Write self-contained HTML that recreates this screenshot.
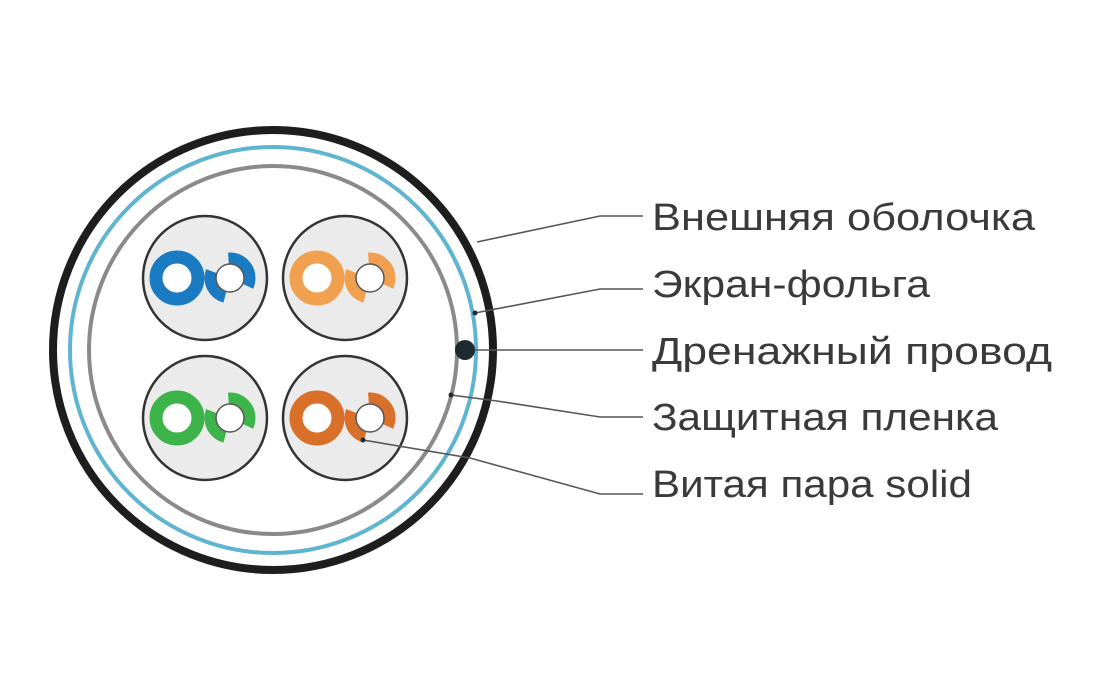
<!DOCTYPE html>
<html><head><meta charset="utf-8"><style>
html,body{margin:0;padding:0;background:#fff;}
svg{display:block;}
text{font-family:"Liberation Sans",sans-serif;font-size:38px;fill:#3a3a3a;}
</style></head><body>
<svg width="1094" height="700" viewBox="0 0 1094 700">
<circle cx="273" cy="350" r="220" fill="#fff" stroke="#1e1e1e" stroke-width="8"/>
<circle cx="273" cy="350" r="203" fill="none" stroke="#5fb4d0" stroke-width="4"/>
<circle cx="273" cy="350" r="184" fill="none" stroke="#8a8a8a" stroke-width="4"/>
<circle cx="465" cy="350" r="10" fill="#1e2a30"/>

<g transform="translate(205,278)">
  <circle r="62" fill="#ebebeb" stroke="#333" stroke-width="2.5"/>
  <circle cx="-28" cy="0" r="21" fill="#fff" stroke="#1a7ac2" stroke-width="13"/>
  <circle cx="25" cy="0" r="20" fill="none" stroke="#1a7ac2" stroke-width="11" stroke-dasharray="8.7 27.9 33.2 22.7 33.2"/>
  <circle cx="25" cy="0" r="14" fill="#fff" stroke="#555" stroke-width="1.5"/>
</g>
<g transform="translate(345,278)">
  <circle r="62" fill="#ebebeb" stroke="#333" stroke-width="2.5"/>
  <circle cx="-28" cy="0" r="21" fill="#fff" stroke="#f0a04e" stroke-width="13"/>
  <circle cx="25" cy="0" r="20" fill="none" stroke="#f0a04e" stroke-width="11" stroke-dasharray="8.7 27.9 33.2 22.7 33.2"/>
  <circle cx="25" cy="0" r="14" fill="#fff" stroke="#555" stroke-width="1.5"/>
</g>
<g transform="translate(205,418)">
  <circle r="62" fill="#ebebeb" stroke="#333" stroke-width="2.5"/>
  <circle cx="-28" cy="0" r="21" fill="#fff" stroke="#3cb44a" stroke-width="13"/>
  <circle cx="25" cy="0" r="20" fill="none" stroke="#3cb44a" stroke-width="11" stroke-dasharray="8.7 27.9 33.2 22.7 33.2"/>
  <circle cx="25" cy="0" r="14" fill="#fff" stroke="#555" stroke-width="1.5"/>
</g>
<g transform="translate(345,418)">
  <circle r="62" fill="#ebebeb" stroke="#333" stroke-width="2.5"/>
  <circle cx="-28" cy="0" r="21" fill="#fff" stroke="#d9702a" stroke-width="13"/>
  <circle cx="25" cy="0" r="20" fill="none" stroke="#d9702a" stroke-width="11" stroke-dasharray="8.7 27.9 33.2 22.7 33.2"/>
  <circle cx="25" cy="0" r="14" fill="#fff" stroke="#555" stroke-width="1.5"/>
</g>

<g fill="none" stroke="#555" stroke-width="1.6">
  <polyline points="643,216 600,216 477,242"/>
  <polyline points="643,289 600,289 475,313"/>
  <polyline points="643,350 475,350"/>
  <polyline points="643,417 600,417 497,401 451,395"/>
  <polyline points="643,494 600,494 470,458 363,440"/>
</g>
<circle cx="475" cy="313" r="2.5" fill="#1e2a30"/>
<circle cx="451" cy="395" r="2.5" fill="#1e2a30"/>
<circle cx="363" cy="440" r="2.5" fill="#1e2a30"/>

<text x="652" y="230" textLength="383" lengthAdjust="spacingAndGlyphs">Внешняя оболочка</text>
<text x="652" y="297" textLength="278" lengthAdjust="spacingAndGlyphs">Экран-фольга</text>
<text x="652" y="364" textLength="400" lengthAdjust="spacingAndGlyphs">Дренажный провод</text>
<text x="652" y="430" textLength="346" lengthAdjust="spacingAndGlyphs">Защитная пленка</text>
<text x="652" y="497" textLength="320" lengthAdjust="spacingAndGlyphs">Витая пара solid</text>
</svg>
</body></html>
